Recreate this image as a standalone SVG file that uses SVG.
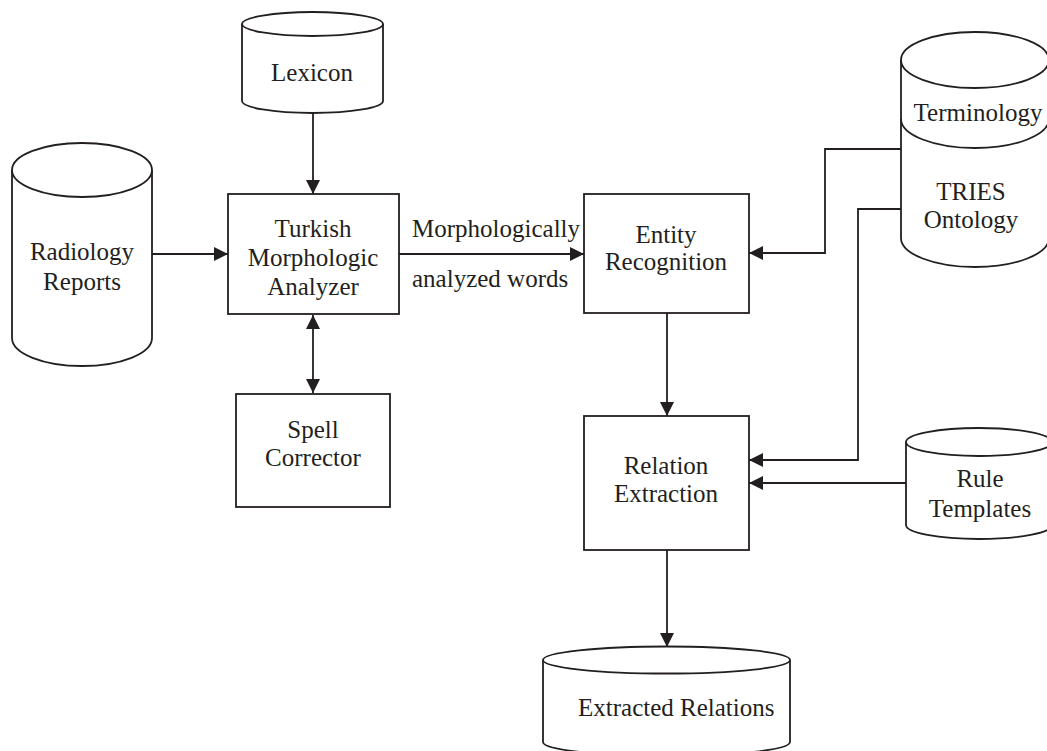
<svg xmlns="http://www.w3.org/2000/svg" width="1047" height="751" viewBox="0 0 1047 751">
<style>
.s{fill:#fff;stroke:#231f20;stroke-width:1.8}
.l{fill:none;stroke:#231f20;stroke-width:1.8}
.t{font-family:"Liberation Serif","Times New Roman",serif;font-size:25px;fill:#231f20;text-anchor:middle}
.ts{text-anchor:start}
</style>
<defs>
<marker id="ah" markerUnits="userSpaceOnUse" markerWidth="15" markerHeight="14" refX="14" refY="7" orient="auto-start-reverse" viewBox="0 0 15 14">
<path d="M0,0 L14,7 L0,14 z" fill="#231f20"/>
</marker>
</defs>
<rect width="1047" height="751" fill="#fff"/>
<g id="connectors">
<line class="l" x1="313" y1="113" x2="313" y2="194" marker-end="url(#ah)"/>
<line class="l" x1="152" y1="254" x2="228" y2="254" marker-end="url(#ah)"/>
<line class="l" x1="313" y1="315" x2="313" y2="393" marker-start="url(#ah)" marker-end="url(#ah)"/>
<line class="l" x1="399" y1="254" x2="584" y2="254" marker-end="url(#ah)"/>
<polyline class="l" points="901,149 825,149 825,253 749,253" marker-end="url(#ah)"/>
<polyline class="l" points="901,209 858,209 858,460 749,460" marker-end="url(#ah)"/>
<line class="l" x1="906" y1="483" x2="749" y2="483" marker-end="url(#ah)"/>
<line class="l" x1="667" y1="313" x2="667" y2="416" marker-end="url(#ah)"/>
<line class="l" x1="667" y1="550" x2="667" y2="647" marker-end="url(#ah)"/>
<text class="t ts" x="412" y="237">Morphologically</text>
<text class="t ts" x="412" y="287">analyzed words</text>
</g>
<g id="lexicon">
<path class="s" d="M242,24 L242,101 A70.5,12 0 0 0 383,101 L383,24"/>
<ellipse class="s" cx="312.5" cy="24" rx="70.5" ry="12"/>
<text class="t" x="312" y="81">Lexicon</text>
</g>
<g id="radiology">
<path class="s" d="M12,170 L12,338 A70,28 0 0 0 152,338 L152,170"/>
<ellipse class="s" cx="82" cy="170" rx="70" ry="27"/>
<text class="t" x="82" y="260">Radiology</text>
<text class="t" x="82" y="290">Reports</text>
</g>
<g id="turkish">
<rect class="s" x="228" y="194" width="171" height="120"/>
<text class="t" x="313" y="237">Turkish</text>
<text class="t" x="313" y="266">Morphologic</text>
<text class="t" x="313" y="295">Analyzer</text>
</g>
<g id="spell">
<rect class="s" x="236" y="394" width="154" height="113"/>
<text class="t" x="313" y="438">Spell</text>
<text class="t" x="313" y="466">Corrector</text>
</g>
<g id="entity">
<rect class="s" x="584" y="194" width="165" height="119"/>
<text class="t" x="666" y="243">Entity</text>
<text class="t" x="666" y="270">Recognition</text>
</g>
<g id="ontology">
<path class="s" d="M901,60 L901,238 A74,29 0 0 0 1049,238 L1049,60"/>
<ellipse class="s" cx="975" cy="60" rx="74" ry="28"/>
<path class="l" d="M901,119 A74,29 0 0 0 1049,119"/>
<text class="t" x="978" y="121">Terminology</text>
<text class="t" x="971" y="200">TRIES</text>
<text class="t" x="971" y="228">Ontology</text>
</g>
<g id="relation">
<rect class="s" x="584" y="416" width="165" height="134"/>
<text class="t" x="666" y="474">Relation</text>
<text class="t" x="666" y="502">Extraction</text>
</g>
<g id="rules">
<path class="s" d="M906,442 L906,525 A73,14 0 0 0 1052,525 L1052,442"/>
<ellipse class="s" cx="979" cy="442" rx="73" ry="14"/>
<text class="t" x="980" y="487">Rule</text>
<text class="t" x="980" y="517">Templates</text>
</g>
<g id="extracted">
<path class="s" d="M543,660 L543,742 A123.5,14 0 0 0 790,742 L790,660"/>
<ellipse class="s" cx="666.5" cy="660" rx="123.5" ry="13.5"/>
<text class="t ts" x="578" y="716">Extracted Relations</text>
</g>
</svg>
